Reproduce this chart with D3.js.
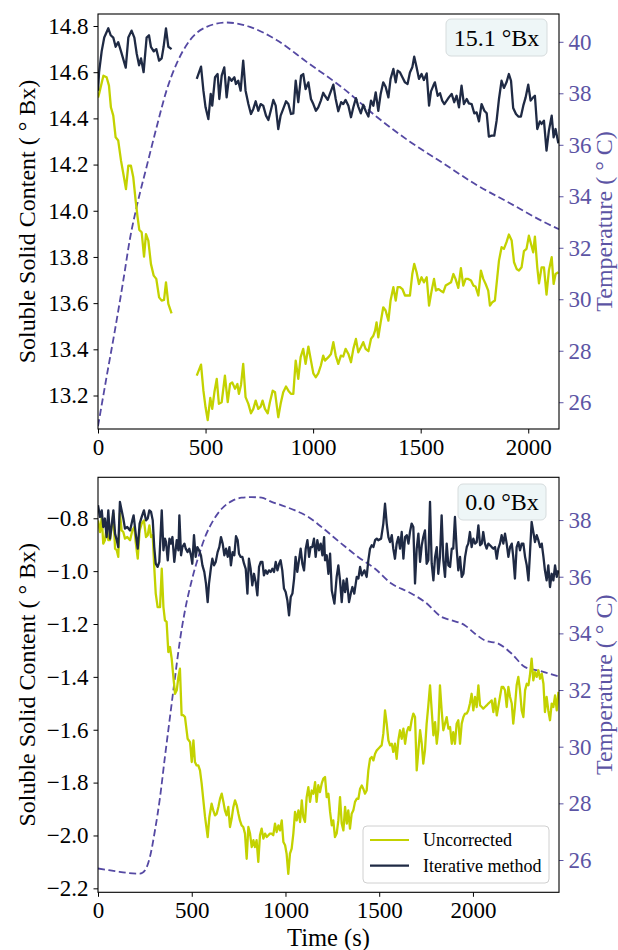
<!DOCTYPE html>
<html><head><meta charset="utf-8">
<script src="https://cdn.jsdelivr.net/npm/d3@7"></script>
<style>
html,body{margin:0;padding:0;background:#fff;}
svg text{font-family:"Liberation Serif","Times New Roman","DejaVu Serif",serif;}
</style></head>
<body>
<svg id="chart" width="618" height="950"></svg>
<script>
// ---------------- DATA ----------------
// Top panel (15.1 °Bx)
const topIterT = [0,5,17,29,48,59,71,82,94,107,129,141,156,169,180,191,200,212,226,237,246,259,271,284,296,305,316,327,342,
 null,
 459,479,490,500,513,524,531,544,556,564,575,587,598,609,621,634,641,652,663,675,686,699,711,722,733,745,756,768,781,792,803,815,826,838,849,861,874,885,897,908,919,931,944,954,965,978,990,1001,1013,1024,1036,1047,
 1055,1068,1078,1094,1105,1117,1130,1140,1151,1164,1176,1187,1199,1210,1222,1233,1244,1257,1269,1280,1291,1303,1314,1326,1337,1350,1360,1373,1384,1393,1404,1415,1427,1439,1450,1461,1470,1481,1492,1504,1515,1528,1539,1548,1559,1566,1579,1590,1600,1610,1621,1631,1644,1656,1667,1678,1690,1701,1714,1724,1737,1749,1760,1771,1783,1796,1807,1817,1830,1842,1853,1864,1876,1887,1899,1910,1920,1930,1943,1954,1966,1977,1988,2000,2011,2023,2031,2042,2054,2062,2073,2085,2096,2109,2118,2127,2140];
const topIterV = [14.52,14.60,14.69,14.75,14.79,14.76,14.75,14.71,14.73,14.69,14.62,14.75,14.78,14.75,14.68,14.63,14.66,14.60,14.75,14.76,14.71,14.69,14.70,14.65,14.66,14.71,14.79,14.71,14.70,
 null,
 14.571,14.624,14.520,14.448,14.397,14.506,14.455,14.578,14.592,14.484,14.585,14.621,14.491,14.578,14.563,14.578,14.549,14.563,14.520,14.650,14.520,14.462,14.419,14.441,14.474,14.433,14.462,14.455,14.412,14.393,14.433,14.480,14.455,14.354,14.412,14.441,14.474,14.462,14.419,14.422,14.563,14.470,14.585,14.592,14.527,14.556,14.484,14.462,14.433,14.448,14.477,14.511,
 14.498,14.480,14.506,14.546,14.484,14.431,14.470,14.462,14.480,14.455,14.405,14.448,14.488,14.451,14.422,14.459,14.433,14.408,14.477,14.455,14.513,14.433,14.506,14.556,14.537,14.491,14.571,14.614,14.556,14.607,14.599,14.578,14.556,14.549,14.599,14.621,14.667,14.621,14.571,14.592,14.566,14.595,14.455,14.517,14.542,14.556,14.498,14.509,14.477,14.462,14.477,14.491,14.506,14.470,14.498,14.448,14.542,14.462,14.484,14.465,14.462,14.422,14.426,14.387,14.462,14.433,14.422,14.321,14.325,14.325,14.390,14.484,14.563,14.532,14.556,14.592,14.563,14.445,14.419,14.408,14.408,14.455,14.491,14.546,14.477,14.491,14.498,14.354,14.387,14.376,14.390,14.260,14.347,14.412,14.318,14.354,14.292];

const topUncT = [0,5,25,40,51,60,71,82,94,107,118,130,141,153,164,175,184,192,203,214,223,234,246,259,271,284,296,307,316,327,342,
 null,
 459,479,490,500,510,522,531,541,552,562,575,590,603,614,624,637,648,655,665,675,686,699,711,722,733,745,756,765,776,789,799,812,823,838,849,861,874,885,897,908,919,931,942,954,965,978,990,1001,1012,1024,1036,1047,
 1055,1071,1083,1094,1105,1117,1129,1140,1151,1164,1176,1187,1199,1210,1222,1233,1244,1257,1269,1280,1288,1295,1303,1314,1326,1337,1350,1360,1373,1384,1393,1404,1415,1427,1439,1450,1461,1470,1481,1492,1504,1515,1528,1539,1551,1562,1571,1582,1593,1605,1616,1628,1641,1652,1662,1675,1687,1698,1709,1721,1734,1745,1755,1768,1780,1791,1802,1814,1822,1833,1845,1856,1864,1876,1887,1899,1910,1923,1934,1946,1957,1969,1980,1992,2003,2013,2023,2031,2042,2050,2062,2073,2085,2096,2109,2118,2127,2140];
const topUncV = [14.49,14.506,14.585,14.578,14.542,14.448,14.412,14.318,14.304,14.217,14.159,14.094,14.195,14.195,14.145,14.044,13.972,13.917,13.907,13.801,13.899,13.871,13.770,13.719,13.705,13.625,13.611,13.614,13.690,13.597,13.556,
 null,
 13.286,13.334,13.221,13.149,13.094,13.190,13.142,13.214,13.272,13.164,13.171,13.286,13.171,13.250,13.257,13.229,13.250,13.207,13.247,13.337,13.193,13.164,13.123,13.142,13.178,13.142,13.152,13.178,13.142,13.123,13.171,13.221,13.214,13.106,13.164,13.214,13.239,13.221,13.207,13.207,13.351,13.272,13.366,13.402,13.337,13.412,13.351,13.296,13.279,13.296,13.330,13.373,
 13.351,13.366,13.380,13.431,13.373,13.337,13.373,13.369,13.402,13.380,13.344,13.402,13.445,13.387,13.409,13.431,13.402,13.392,13.445,13.459,13.481,13.517,13.452,13.517,13.582,13.568,13.524,13.611,13.669,13.611,13.669,13.669,13.661,13.633,13.633,13.633,13.726,13.770,13.734,13.683,13.712,13.690,13.712,13.589,13.654,13.705,13.654,13.661,13.654,13.647,13.676,13.683,13.690,13.726,13.705,13.666,13.752,13.676,13.705,13.705,13.698,13.676,13.672,13.633,13.741,13.705,13.683,13.654,13.589,13.604,13.611,13.712,13.784,13.842,13.835,13.864,13.897,13.871,13.777,13.748,13.741,13.755,13.825,13.835,13.892,13.856,13.820,13.888,13.755,13.686,13.755,13.755,13.637,13.741,13.799,13.683,13.726,13.734];

const topTempT = [0,5,40,79,118,149,180,226,273,319,366,428,505,598,706,830,970,1140,1295,1450,1605,1760,1915,2071,2143];
const topTempV = [25.07,25.31,26.99,28.81,30.75,32.37,33.6,35.15,36.7,38.12,39.16,40.07,40.58,40.75,40.58,40.07,39.22,38.19,37.09,36.12,35.28,34.44,33.73,33.01,32.72];

// Bottom panel (0.0 °Bx)
const botIterT = [0,11,20,28,37,46,55,64,73,82,91,100,108,117,126,135,144,156,171,183,190,201,212,222,233,245,256,265,274,283,292,300,308,318,327,340,349,357,363,372,381,389,397,407,420,429,434,443,450,461,468,478,487,496,503,512,521,530,539,549,557,567,576,585,592,603,610,619,628,638,647,656,665,674,683,692,701,709,718,727,736,745,752,761,770,779,788,797,805,814,823,832,841,850,859,868,877,885,894,903,912,921,930,939,948,957,966,974,983,992,1001,1010,1019,1028,1037,1046,1054,1063,1072,1081,1090,1099,1108,1117,1126,1134,1143,1152,1161,1170,1179,1188,1197,1206,
 1211,1220,1229,1238,1247,1261,1273,1282,1291,1300,1309,1318,1327,1339,1350,1357,1367,1380,1389,1398,1407,1421,1433,1442,1451,1460,1469,1478,1487,1495,1510,1522,1531,1540,1549,1558,1567,1575,1584,1593,1602,1611,1620,1629,1638,1647,1656,1664,1673,1682,1691,1700,1709,1718,1727,1735,1744,1753,1762,1771,1780,1789,1798,1807,1815,1824,1833,1842,1851,1860,1869,1878,1887,1895,1904,1913,1922,1931,1940,1949,1958,1967,1975,1984,1993,2002,2011,2020,2029,2038,2047,2055,2064,2073,2082,2091,2100,2109,2118,2127,2135,2144,2153,2162,2171,2180,2189,2198,2207,2215,2224,2233,2242,2251,2260,2269,2278,2287,2296,2304,2313,2322,2331,2340,2349,2358,2367,2376,2384,2393,2402,2411,2420,2429,2438,2447,2456];
const botIterV = [-0.751,-0.795,-0.770,-0.833,-0.801,-0.871,-0.770,-0.877,-0.827,-0.770,-0.858,-0.883,-0.909,-0.738,-0.770,-0.801,-0.839,-0.833,-0.846,-0.808,-0.789,-0.858,-0.915,-0.820,-0.795,-0.770,-0.808,-0.801,-0.770,-0.776,-0.808,-0.909,-0.972,-0.984,-0.965,-0.770,-0.921,-0.877,-0.890,-0.959,-0.877,-0.896,-0.871,-0.965,-0.883,-0.921,-0.789,-0.940,-0.909,-0.896,-0.915,-0.928,-0.915,-0.940,-0.972,-0.864,-0.946,-0.909,-0.921,-0.940,-0.978,-1.003,-1.047,-1.117,-1.047,-0.984,-0.953,-0.978,-0.965,-0.928,-0.909,-0.871,-0.896,-0.940,-0.915,-0.946,-0.909,-0.978,-0.928,-0.940,-0.868,-0.883,-0.934,-0.946,-0.946,-0.972,-0.991,-1.085,-0.953,-0.991,-1.054,-1.010,-1.041,-1.092,-0.984,-0.965,-0.965,-1.016,-0.997,-1.010,-0.997,-1.003,-0.991,-1.003,-0.965,-0.997,-0.972,-0.959,-0.997,-1.066,-1.079,-1.110,-1.167,-1.098,-1.085,-1.028,-0.946,-1.003,-0.959,-0.915,-0.972,-0.997,-0.915,-0.883,-0.946,-0.909,-0.909,-0.877,-0.946,-0.883,-0.921,-0.896,-0.940,-0.871,
 -0.959,-0.940,-1.010,-0.934,-1.073,-1.123,-1.022,-0.978,-1.035,-1.117,-1.035,-1.079,-1.028,-1.117,-1.079,-1.060,-1.085,-1.022,-1.028,-0.984,-1.016,-0.997,-1.022,-0.959,-0.915,-0.902,-0.909,-0.883,-0.877,-0.883,-0.877,-0.820,-0.745,-0.820,-0.871,-0.890,-0.864,-0.915,-0.953,-0.896,-0.871,-0.915,-0.852,-0.953,-0.871,-0.864,-0.896,-0.852,-0.820,-0.833,-1.047,-0.915,-0.858,-0.965,-0.902,-0.871,-0.846,-0.972,-0.959,-0.738,-0.972,-1.035,-0.946,-0.909,-1.010,-0.946,-0.789,-0.959,-1.022,-0.896,-0.978,-0.984,-0.915,-0.915,-0.795,-0.915,-0.997,-0.946,-1.022,-1.010,-0.946,-0.909,-0.896,-0.852,-0.909,-0.877,-0.896,-0.890,-0.827,-0.902,-0.896,-0.852,-0.896,-0.915,-0.896,-0.902,-0.909,-0.915,-0.909,-0.953,-0.915,-0.896,-0.864,-0.896,-0.858,-0.896,-0.946,-0.909,-0.896,-0.946,-1.028,-0.909,-0.890,-0.921,-0.896,-0.896,-0.946,-0.978,-1.035,-0.934,-0.814,-0.852,-0.890,-0.864,-0.883,-0.909,-0.896,-0.946,-0.997,-1.035,-0.978,-1.060,-1.010,-1.035,-0.978,-1.022,-0.997];

const botUncT = [0,11,20,28,37,46,55,64,73,82,91,100,108,117,126,135,144,156,171,183,194,201,212,222,233,245,256,265,274,283,292,300,308,318,331,340,349,357,366,375,384,393,402,411,420,429,437,446,455,464,478,491,500,509,517,526,535,544,553,562,571,585,594,606,615,624,633,642,651,660,669,677,686,695,704,713,722,731,740,749,757,766,775,784,793,802,811,820,829,837,846,855,864,873,882,891,900,909,917,926,935,944,953,962,971,980,989,998,1006,1015,1024,1033,1042,1051,1060,1069,1078,1087,1095,1104,1113,1122,1131,1140,1149,1158,1166,1175,1184,1193,1202,
 1211,1220,1229,1238,1247,1255,1264,1273,1282,1291,1300,1309,1318,1327,1335,1344,1353,1362,1371,1380,1389,1398,1407,1415,1424,1433,1442,1451,1460,1469,1478,1487,1495,1504,1513,1522,1531,1540,1549,1558,1567,1575,1584,1593,1602,1611,1620,1629,1638,1647,1656,1664,1673,1682,1691,1700,1709,1718,1727,1735,1744,1753,1762,1771,1780,1789,1798,1807,1815,1824,1833,1842,1851,1860,1869,1878,1887,1895,1904,1913,1922,1931,1940,1949,1958,1967,1975,1984,1993,2002,2011,2020,2029,2038,2047,2055,2064,2073,2082,2091,2100,2109,2118,2127,2135,2144,2153,2162,2171,2180,2189,2198,2207,2215,2224,2233,2242,2251,2260,2269,2278,2287,2296,2304,2313,2322,2331,2340,2349,2358,2367,2376,2384,2393,2402,2411,2420,2429,2438,2447,2456];
const botUncV = [-0.808,-0.852,-0.795,-0.896,-0.883,-0.833,-0.883,-0.883,-0.833,-0.782,-0.915,-0.921,-0.946,-0.782,-0.846,-0.852,-0.877,-0.871,-0.883,-0.846,-0.833,-0.890,-0.953,-0.846,-0.820,-0.808,-0.871,-0.864,-0.827,-0.871,-0.864,-0.984,-1.085,-1.136,-1.136,-0.991,-1.136,-1.186,-1.192,-1.306,-1.287,-1.331,-1.400,-1.464,-1.451,-1.400,-1.369,-1.545,-1.545,-1.552,-1.634,-1.647,-1.722,-1.640,-1.722,-1.735,-1.735,-1.754,-1.804,-1.867,-1.930,-2.006,-1.930,-1.880,-1.905,-1.924,-1.918,-1.892,-1.861,-1.842,-1.873,-1.905,-1.924,-1.892,-1.968,-1.936,-1.892,-1.867,-1.886,-1.918,-1.943,-1.962,-1.968,-1.993,-2.088,-1.968,-1.993,-2.044,-2.018,-2.044,-2.018,-2.100,-1.999,-1.974,-2.012,-1.993,-2.006,-1.999,-1.993,-1.993,-1.999,-1.955,-1.987,-1.962,-1.981,-1.943,-2.025,-2.037,-2.069,-2.145,-2.069,-2.050,-1.993,-1.911,-1.943,-1.905,-1.949,-1.867,-1.930,-1.949,-1.855,-1.817,-1.873,-1.830,-1.842,-1.798,-1.873,-1.810,-1.836,-1.804,-1.785,
 -1.779,-1.855,-1.842,-1.911,-1.962,-1.943,-2.006,-1.993,-1.943,-1.855,-1.955,-1.981,-1.892,-1.955,-1.905,-1.974,-1.918,-1.905,-1.873,-1.861,-1.861,-1.823,-1.811,-1.823,-1.842,-1.830,-1.754,-1.710,-1.703,-1.716,-1.691,-1.678,-1.672,-1.665,-1.659,-1.615,-1.527,-1.577,-1.640,-1.659,-1.653,-1.684,-1.653,-1.710,-1.640,-1.602,-1.634,-1.596,-1.653,-1.609,-1.590,-1.602,-1.564,-1.539,-1.552,-1.754,-1.678,-1.602,-1.653,-1.728,-1.678,-1.577,-1.508,-1.432,-1.527,-1.621,-1.571,-1.653,-1.602,-1.432,-1.527,-1.602,-1.577,-1.552,-1.596,-1.590,-1.653,-1.609,-1.653,-1.577,-1.564,-1.653,-1.577,-1.552,-1.539,-1.539,-1.527,-1.501,-1.464,-1.527,-1.476,-1.514,-1.432,-1.508,-1.514,-1.520,-1.514,-1.508,-1.501,-1.495,-1.489,-1.533,-1.482,-1.546,-1.514,-1.476,-1.438,-1.438,-1.451,-1.514,-1.438,-1.476,-1.501,-1.577,-1.514,-1.432,-1.400,-1.451,-1.527,-1.552,-1.451,-1.426,-1.432,-1.394,-1.331,-1.413,-1.382,-1.400,-1.375,-1.407,-1.388,-1.426,-1.533,-1.476,-1.527,-1.564,-1.501,-1.514,-1.470,-1.527,-1.457];

const botTempT = [0,91,162,224,251,277,304,331,357,384,411,437,464,500,535,571,615,660,713,766,820,873,926,980,1051,1122,1193,1300,1389,1478,1567,1656,1744,1833,1887,1958,2011,2064,2135,2207,2278,2349,2456];
const botTempV = [25.70,25.61,25.54,25.52,25.64,26.11,27.05,28.22,29.64,31.05,32.46,33.75,34.81,35.87,36.69,37.40,37.99,38.40,38.67,38.79,38.81,38.79,38.64,38.52,38.34,38.11,37.75,37.16,36.69,36.28,35.75,35.46,35.11,34.58,34.46,34.28,33.99,33.75,33.64,33.28,32.81,32.69,32.48];

const xTicksTop = [0,500,1000,1500,2000];
const xTicksBot = [0,500,1000,1500,2000];
const yTicksTop = [13.2,13.4,13.6,13.8,14.0,14.2,14.4,14.6,14.8];
const yTicksBot = [-2.2,-2.0,-1.8,-1.6,-1.4,-1.2,-1.0,-0.8];
const tTicksTop = [26,28,30,32,34,36,38,40];
const tTicksBot = [26,28,30,32,34,36,38];
const annotTop = "15.1 °Bx";
const annotBot = "0.0 °Bx";
const seriesNames = ["Uncorrected","Iterative method"];

// ---------------- STYLE ----------------
const C_UNC = "#c3d200", C_ITER = "#1f2a44", C_TEMP = "#5549a3", C_TEMPTXT = "#5c54a4";
const FS_TICK = 23, FS_LABEL = 24;

const svg = d3.select("#chart");
const L = 98, R = 559;

function panel(cfg){
  const g = svg.append("g");
  const x = d3.scaleLinear().domain(cfg.xDom).range([L, R]);
  const y = d3.scaleLinear().domain(cfg.yDom).range([cfg.y1, cfg.y0]);
  const yT = d3.scaleLinear().domain(cfg.tDom).range([cfg.y1, cfg.y0]);
  const clipId = "clip" + cfg.id;
  svg.append("clipPath").attr("id", clipId).append("rect")
    .attr("x", L).attr("y", cfg.y0).attr("width", R - L).attr("height", cfg.y1 - cfg.y0);

  const mk = (T, V) => T.map((t, i) => ({t, v: V[i]}));
  const line = (ys) => d3.line().defined(d => d.t != null && d.v != null).x(d => x(d.t)).y(d => ys(d.v));

  const plot = g.append("g").attr("clip-path", `url(#${clipId})`);
  plot.append("path").datum(mk(cfg.tempT, cfg.tempV))
    .attr("d", line(yT).curve(d3.curveMonotoneX)).attr("fill", "none")
    .attr("stroke", C_TEMP).attr("stroke-width", 1.8).attr("stroke-dasharray", "7,3.5");
  plot.append("path").datum(mk(cfg.uncT, cfg.uncV))
    .attr("d", line(y)).attr("fill", "none").attr("stroke", C_UNC)
    .attr("stroke-width", 2.3).attr("stroke-linejoin", "round");
  plot.append("path").datum(mk(cfg.iterT, cfg.iterV))
    .attr("d", line(y)).attr("fill", "none").attr("stroke", C_ITER)
    .attr("stroke-width", 2.3).attr("stroke-linejoin", "round");

  // axes
  const ax = g.append("g").attr("transform", `translate(0,${cfg.y1})`)
    .call(d3.axisBottom(x).tickValues(cfg.xTicks).tickSize(4.5).tickPadding(5).tickFormat(d3.format("d")));
  const ay = g.append("g").attr("transform", `translate(${L},0)`)
    .call(d3.axisLeft(y).tickValues(cfg.yTicks).tickSize(4.5).tickPadding(5).tickFormat(d3.format(".1f")));
  const at = g.append("g").attr("transform", `translate(${R},0)`)
    .call(d3.axisRight(yT).tickValues(cfg.tTicks).tickSize(4.5).tickPadding(5).tickFormat(d3.format("d")));
  [ax, ay, at].forEach(a => {
    a.select(".domain").remove();
    a.selectAll("text").attr("font-size", FS_TICK).attr("font-family", "Liberation Serif, serif").attr("fill", "#000");
    a.selectAll("line").attr("stroke", "#000").attr("stroke-width", 1);
  });
  at.selectAll("text").attr("fill", C_TEMPTXT);
  at.selectAll("line").attr("stroke", C_TEMPTXT);

  g.append("rect").attr("x", L).attr("y", cfg.y0).attr("width", R - L).attr("height", cfg.y1 - cfg.y0)
    .attr("fill", "none").attr("stroke", "#000").attr("stroke-width", 1.1);

  const cy = (cfg.y0 + cfg.y1) / 2;
  g.append("text").attr("transform", `translate(35,${cy}) rotate(-90)`)
    .attr("text-anchor", "middle")
    .attr("font-size", FS_LABEL).attr("fill", "#000").text("Soluble Solid Content ( ° Bx)");
  g.append("text").attr("transform", `translate(612,${cy}) rotate(-90)`)
    .attr("text-anchor", "middle")
    .attr("font-size", FS_LABEL).attr("fill", C_TEMPTXT).text("Temperature ( ° C)");

  // annotation box
  const ab = cfg.annotBox;
  g.append("rect").attr("x", ab[0]).attr("y", ab[1]).attr("width", ab[2]).attr("height", ab[3])
    .attr("rx", 5).attr("fill", "#eef6f7").attr("stroke", "#d6dcdd").attr("stroke-width", 1);
  g.append("text").attr("x", ab[0] + ab[2] / 2).attr("y", ab[1] + ab[3] / 2)
    .attr("text-anchor", "middle").attr("dominant-baseline", "central")
    .attr("font-size", FS_LABEL).attr("fill", "#000").text(cfg.annot);
  return {x, y, g};
}

panel({id: "A", xDom: [0, 2143], yDom: [13.055, 14.852], tDom: [24.96, 41.08], y0: 14, y1: 429,
  iterT: topIterT, iterV: topIterV, uncT: topUncT, uncV: topUncV, tempT: topTempT, tempV: topTempV,
  xTicks: xTicksTop, yTicks: yTicksTop, tTicks: tTicksTop, annot: annotTop, annotBox: [446, 19, 101, 37]});

panel({id: "B", xDom: [0, 2459], yDom: [-2.215, -0.645], tDom: [24.86, 39.51], y0: 477.3, y1: 892.3,
  iterT: botIterT, iterV: botIterV, uncT: botUncT, uncV: botUncV, tempT: botTempT, tempV: botTempV,
  xTicks: xTicksBot, yTicks: yTicksBot, tTicks: tTicksBot, annot: annotBot, annotBox: [458, 484, 88, 36]});

svg.append("text").attr("x", (L + R) / 2).attr("y", 946).attr("text-anchor", "middle")
  .attr("font-size", 24.5).attr("fill", "#000").text("Time (s)");

// legend
const lg = svg.append("g");
lg.append("rect").attr("x", 363).attr("y", 826).attr("width", 186).attr("height", 57).attr("rx", 4)
  .attr("fill", "#fff").attr("fill-opacity", 0.85).attr("stroke", "#d0d0d0");
[C_UNC, C_ITER].forEach((c, i) => {
  const yy = 840 + i * 25.7;
  lg.append("line").attr("x1", 370).attr("x2", 409).attr("y1", yy).attr("y2", yy)
    .attr("stroke", c).attr("stroke-width", 2.2);
  lg.append("text").attr("x", 423).attr("y", yy).attr("dominant-baseline", "central")
    .attr("font-size", 18).attr("fill", "#000").text(seriesNames[i]);
});
</script>
</body></html>
